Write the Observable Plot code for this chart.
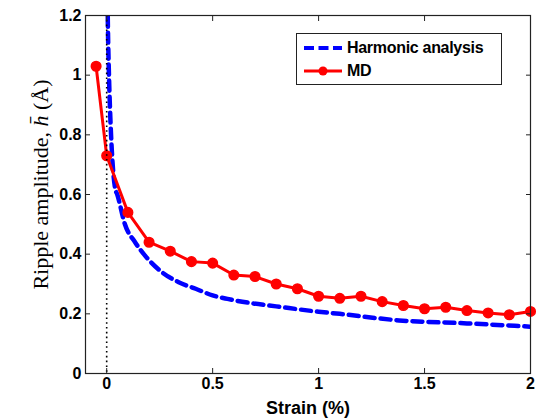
<!DOCTYPE html>
<html>
<head>
<meta charset="utf-8">
<script src="https://cdn.jsdelivr.net/npm/d3@7"></script>
<script src="https://cdn.jsdelivr.net/npm/@observablehq/plot@0.6"></script>
<style>
  body { margin: 0; background: #fff; }
  #chart { position: relative; width: 542px; height: 420px; }
  .legend {
    position: absolute; left: 296px; top: 33px; width: 206px; height: 52px;
    box-sizing: border-box; border: 1.5px solid #222; background: #fff;
    font: bold 16px "Liberation Sans", Arial, sans-serif; color: #000; letter-spacing: -0.3px;
  }
  .legend .row { position: absolute; left: 6px; display: flex; align-items: center; height: 20px; }
  .legend .row svg { display: block; margin-right: 4px; }
</style>
</head>
<body>
<div id="chart"></div>
<script>
// Molecular dynamics ripple amplitude vs. applied strain
const mdStrain = [-0.05, 0, 0.1, 0.2, 0.3, 0.4, 0.5, 0.6, 0.7, 0.8, 0.9, 1.0, 1.1, 1.2, 1.3, 1.4, 1.5, 1.6, 1.7, 1.8, 1.9, 2.0];
const mdAmplitude = [1.03, 0.73, 0.54, 0.44, 0.41, 0.375, 0.37, 0.33, 0.325, 0.30, 0.284, 0.259, 0.252, 0.259, 0.241, 0.228, 0.217, 0.222, 0.211, 0.203, 0.197, 0.208];

// Harmonic analysis prediction (diverges as strain approaches zero)
const harmonicStrain = [0.004, 0.006, 0.01, 0.016, 0.024, 0.04, 0.05, 0.086, 0.134, 0.18, 0.26, 0.34, 0.42, 0.5, 0.57, 0.68, 0.8, 1.0, 1.1, 1.38, 1.7, 2.0];
const harmonicAmplitude = [1.25, 1.15, 1.02, 0.88, 0.75, 0.62, 0.6, 0.5, 0.44, 0.396, 0.34, 0.306, 0.284, 0.262, 0.25, 0.236, 0.225, 0.207, 0.2, 0.178, 0.168, 0.157];

const xTicks = [0, 0.5, 1, 1.5, 2];
const yTicks = [0, 0.2, 0.4, 0.6, 0.8, 1, 1.2];
const xLabel = "Strain (%)";
const yLabel = "Ripple amplitude, h\u0304 (\u00C5)";
const seriesNames = ["Harmonic analysis", "MD"];

const md = mdStrain.map((x, i) => ({x, y: mdAmplitude[i]}));
const harmonic = harmonicStrain.map((x, i) => ({x, y: harmonicAmplitude[i]}));

const blue = "#0000ff";
const red = "#ff0000";
const axisColor = "#222";
const fmt = d => String(d);
const blank = () => "";

const chart = Plot.plot({
  width: 542,
  height: 420,
  marginLeft: 85,
  marginRight: 12,
  marginTop: 15,
  marginBottom: 47,
  style: {fontFamily: "'Liberation Sans', Arial, sans-serif", fontWeight: "bold", fontSize: "16px", color: "#000", background: "#fff"},
  x: {domain: [-0.1, 2]},
  y: {domain: [0, 1.2]},
  marks: [
    Plot.line(harmonic, {x: "x", y: "y", stroke: blue, strokeWidth: 4.5, strokeDasharray: "10,6", curve: "monotone-x", clip: true}),
    Plot.line(md, {x: "x", y: "y", stroke: red, strokeWidth: 3}),
    Plot.dot(md, {x: "x", y: "y", r: 4.8, fill: red, stroke: red}),
    Plot.ruleX([0], {stroke: "#000", strokeWidth: 1.6, strokeDasharray: "1.6,3.2"}),
    Plot.frame({stroke: axisColor, strokeWidth: 1.2}),
    // tick labels
    Plot.axisX({ticks: xTicks, tickSize: 0, tickPadding: 4, tickFormat: fmt, label: null, fontSize: 16}),
    Plot.axisY({ticks: yTicks, tickSize: 0, tickPadding: 4, tickFormat: fmt, label: null, fontSize: 16}),
    // inward tick marks on all four sides
    Plot.axisX({ticks: xTicks, tickSize: 5, dy: -5, tickFormat: blank, label: null, stroke: axisColor}),
    Plot.axisX({ticks: xTicks, anchor: "top", tickSize: 5, dy: 5, tickFormat: blank, label: null, stroke: axisColor}),
    Plot.axisY({ticks: yTicks, tickSize: 5, dx: 5, tickFormat: blank, label: null, stroke: axisColor}),
    Plot.axisY({ticks: yTicks, anchor: "right", tickSize: 5, dx: -5, tickFormat: blank, label: null, stroke: axisColor}),
    Plot.text([xLabel], {frameAnchor: "bottom", dy: 35, text: d => d, fontSize: 18, fontWeight: "bold", lineAnchor: "middle"}),
    Plot.text([yLabel], {frameAnchor: "left", dx: -45, dy: -10, rotate: -90, text: d => d, fontSize: 22, fontWeight: "normal", textAnchor: "middle", fontFamily: "'Liberation Serif', 'Times New Roman', serif", lineAnchor: "middle"})
  ]
});

document.getElementById("chart").appendChild(chart);

// italic h with overbar inside the y-axis label
d3.select(chart).selectAll("text").filter(function () { return this.textContent === yLabel; })
  .each(function () {
    const t = d3.select(this);
    t.text(null);
    t.append("tspan").text("Ripple amplitude, ");
    t.append("tspan").attr("font-style", "italic").text("h\u0304");
    t.append("tspan").text(" (\u00C5)");
  });

// legend
const legend = d3.select("#chart").append("div").attr("class", "legend");
const rows = [
  {name: seriesNames[0], color: blue, dash: "10,4.5", width: 4, marker: false, top: 4},
  {name: seriesNames[1], color: red, dash: null, width: 3, marker: true, top: 27}
];
for (const r of rows) {
  const row = legend.append("div").attr("class", "row").style("top", r.top + "px");
  const s = row.append("svg").attr("width", 40).attr("height", 20);
  s.append("line").attr("x1", 1).attr("x2", 39).attr("y1", 10).attr("y2", 10)
    .attr("stroke", r.color).attr("stroke-width", r.width).attr("stroke-dasharray", r.dash);
  if (r.marker) s.append("circle").attr("cx", 20).attr("cy", 10).attr("r", 4.5).attr("fill", r.color);
  row.append("span").text(r.name);
}
</script>
</body>
</html>
